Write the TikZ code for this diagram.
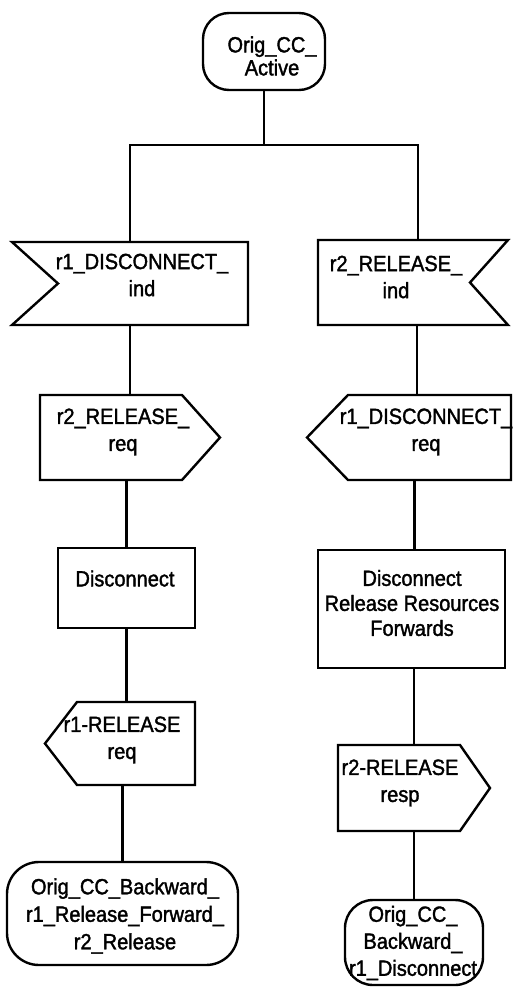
\documentclass[tikz,border=0pt]{standalone}
\usepackage{fontspec}
\setmainfont{Liberation Sans}[FakeBold=1.6,FakeStretch=0.91]
\begin{document}
\begin{tikzpicture}[x=1pt,y=-1pt,
  frame/.style={rectangle,draw=none,inner sep=0pt,outer sep=0pt},
  outline/.style={line width=2.4pt,line join=miter},
  statebox/.style={rectangle,draw,line width=2.4pt,inner sep=0pt,outer sep=0pt},
  txt/.style={inner sep=0pt,align=center,font=\fontsize{22}{27}\selectfont},
  wire/.style={line width=2.4pt}]
\useasboundingbox (0,0) rectangle (514,987);

% ---------- symbol frames ----------
\node[statebox,rounded corners=26pt,minimum width=122pt,minimum height=77pt] (s0) at (264,51.5) {};
\node[frame,minimum width=236pt,minimum height=83pt] (in1) at (130,283.5) {};
\node[frame,minimum width=190pt,minimum height=85pt] (in2) at (413,282.5) {};
\node[frame,minimum width=180pt,minimum height=85pt] (out1) at (130,437.5) {};
\node[frame,minimum width=204pt,minimum height=85pt] (out2) at (409,437.5) {};
\node[frame,draw,line width=2.4pt,minimum width=137pt,minimum height=80pt] (task1) at (126.5,588) {};
\node[frame,draw,line width=2.4pt,minimum width=187pt,minimum height=118pt] (task2) at (411.5,609) {};
\node[frame,minimum width=150pt,minimum height=83pt] (out3) at (120,743.5) {};
\node[frame,minimum width=152pt,minimum height=86pt] (out4) at (414,788) {};
\node[statebox,rounded corners=32pt,minimum width=231pt,minimum height=103pt] (st1) at (122.5,913.5) {};
\node[statebox,rounded corners=28pt,minimum width=138pt,minimum height=85pt] (st2) at (414,942.5) {};

% input symbols (notched)
\draw[outline] (in1.north west) -- (in1.north east) -- (in1.south east)
  -- (in1.south west) -- ([xshift=46pt]in1.west) -- cycle;
\draw[outline] (in2.north west) -- (in2.north east) -- ([xshift=-38pt]in2.east)
  -- (in2.south east) -- (in2.south west) -- cycle;

% output symbols (pointed)
\draw[outline] (out1.north west) -- ([xshift=-38pt]out1.north east) -- (out1.east)
  -- ([xshift=-38pt]out1.south east) -- (out1.south west) -- cycle;
\draw[outline] ([xshift=41pt]out2.north west) -- (out2.north east) -- (out2.south east)
  -- ([xshift=41pt]out2.south west) -- (out2.west) -- cycle;
\draw[outline] ([xshift=32pt]out3.north west) -- (out3.north east) -- (out3.south east)
  -- ([xshift=32pt]out3.south west) -- (out3.west) -- cycle;
\draw[outline] (out4.north west) -- ([xshift=-30pt]out4.north east) -- (out4.east)
  -- ([xshift=-30pt]out4.south east) -- (out4.south west) -- cycle;

% ---------- texts ----------
\node[txt,font=\fontsize{22}{23}\selectfont] (s0t) at (272,56) {Orig\_CC\_\\Active};
\node[txt] (in1t) at (142,275) {r1\_DISCONNECT\_\\ind};
\node[txt] (in2t) at (396,277) {r2\_RELEASE\_\\ind};
\node[txt] (out1t) at (123,432) {r2\_RELEASE\_\\req};
\node[txt] (out2t) at (426,432) {r1\_DISCONNECT\_\\req};
\node[txt] (task1t) at (125,578.5) {Disconnect};
\node[txt,font=\fontsize{22}{25}\selectfont] (task2t) at (412,603) {Disconnect\\Release Resources\\Forwards};
\node[txt] (out3t) at (122,740) {r1-RELEASE\\req};
\node[txt] (out4t) at (400,783) {r2-RELEASE\\resp};
\node[txt,font=\fontsize{22}{27.5}\selectfont] (st1t) at (125,916) {Orig\_CC\_Backward\_\\r1\_Release\_Forward\_\\r2\_Release};
\node[txt] (st2t) at (413,943) {Orig\_CC\_\\Backward\_\\r1\_Disconnect};

% ---------- connectors ----------
\coordinate (jn) at (264,145);
\draw[wire] (s0.south) -- (jn);
\draw[wire] (in1.north) |- (jn) -| ([xshift=5pt]in2.north);
\draw[wire] (in1.south) -- (out1.north);
\draw[wire] ([xshift=4pt]in2.south) -- ([xshift=4pt]in2.south |- out2.north);
\draw[wire] ([xshift=3pt]task2.north |- out2.south) -- ([xshift=3pt]task2.north);
\draw[wire] (out4.north |- task2.south) -- (out4.north);
\draw[wire] (out4.south) -- (st2.north);
\draw[wire] (task1.north |- out1.south) -- (task1.north);
\draw[wire] (task1.south) -- (task1.south |- out3.north);
\draw[wire] (st1.north |- out3.south) -- (st1.north);
\end{tikzpicture}
\end{document}
